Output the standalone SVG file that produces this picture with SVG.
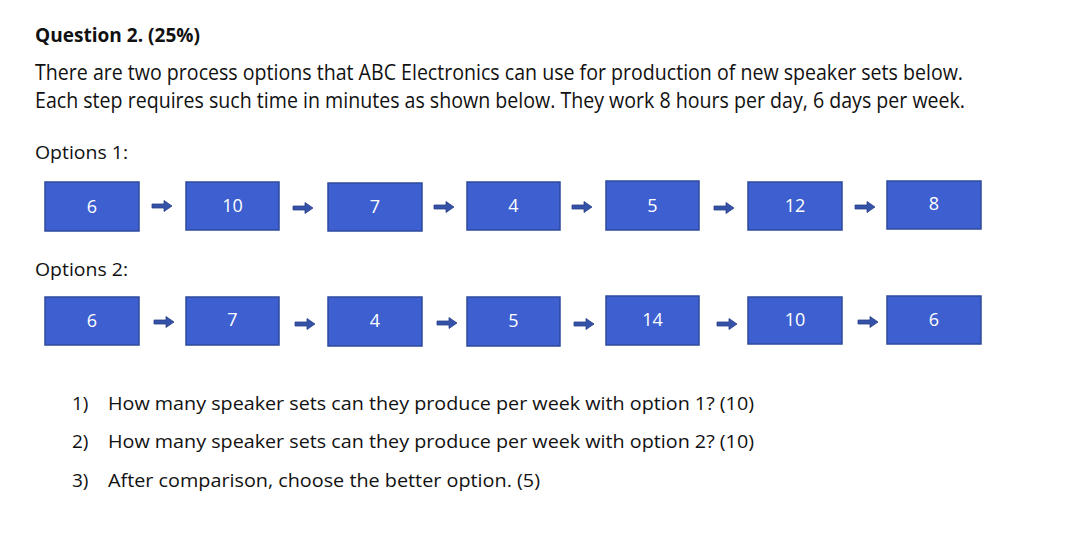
<svg xmlns="http://www.w3.org/2000/svg" xmlns:xlink="http://www.w3.org/1999/xlink" width="1080" height="553" viewBox="0 0 1080 553">
<style>
.t{font-family:"Open Sans","Noto Sans","Liberation Sans",sans-serif;fill:#111;}
.h{font-size:20px;font-weight:bold;}
.p{font-size:21px;}
.o{font-size:18px;}
.q{font-size:19px;}
.box{fill:#3D5FCF;stroke:#2E4A9C;stroke-width:1.5;}
.n{font-family:"Open Sans","Noto Sans","Liberation Sans",sans-serif;font-size:18px;fill:#fff;text-anchor:middle;}
.arr{fill:#3452A8;stroke:#2A4088;stroke-width:0.8;}
</style>
<defs>
<path id="a" class="arr" d="M0,-2 L12,-2 L12,-5.5 L20,0 L12,5.5 L12,2 L0,2 Z"/>
</defs>
<rect width="1080" height="553" fill="#fff"/>
<text class="t h" x="35" y="42" textLength="165" lengthAdjust="spacingAndGlyphs">Question 2. (25%)</text>
<text class="t p" x="35" y="80" textLength="928" lengthAdjust="spacingAndGlyphs">There are two process options that ABC Electronics can use for production of new speaker sets below.</text>
<text class="t p" x="35" y="108" textLength="930" lengthAdjust="spacingAndGlyphs">Each step requires such time in minutes as shown below. They work 8 hours per day, 6 days per week.</text>
<text class="t o" x="35" y="159" textLength="93" lengthAdjust="spacingAndGlyphs">Options 1:</text>
<text class="t o" x="35" y="276" textLength="93" lengthAdjust="spacingAndGlyphs">Options 2:</text>

<g id="connectors">
<use xlink:href="#a" x="152" y="206"/>
<use xlink:href="#a" x="293" y="208"/>
<use xlink:href="#a" x="434" y="207"/>
<use xlink:href="#a" x="572" y="207"/>
<use xlink:href="#a" x="714" y="208"/>
<use xlink:href="#a" x="855" y="207"/>
<use xlink:href="#a" x="154" y="322"/>
<use xlink:href="#a" x="295" y="324"/>
<use xlink:href="#a" x="437" y="323"/>
<use xlink:href="#a" x="574" y="324"/>
<use xlink:href="#a" x="717" y="324"/>
<use xlink:href="#a" x="858" y="322"/>
</g>

<g id="o1s1"><rect class="box" x="45" y="182" width="94" height="49"/><text class="n" x="92" y="213">6</text></g>
<g id="o1s2"><rect class="box" x="186" y="182" width="93" height="48"/><text class="n" x="232.5" y="212">10</text></g>
<g id="o1s3"><rect class="box" x="328" y="183" width="94" height="48"/><text class="n" x="375" y="213">7</text></g>
<g id="o1s4"><rect class="box" x="467" y="182" width="93" height="48"/><text class="n" x="513.5" y="212">4</text></g>
<g id="o1s5"><rect class="box" x="606" y="181" width="93" height="49"/><text class="n" x="652.5" y="212">5</text></g>
<g id="o1s6"><rect class="box" x="748" y="182" width="94" height="48"/><text class="n" x="795" y="212">12</text></g>
<g id="o1s7"><rect class="box" x="887" y="181" width="94" height="48"/><text class="n" x="934" y="210">8</text></g>

<g id="o2s1"><rect class="box" x="45" y="297" width="94" height="48"/><text class="n" x="92" y="327">6</text></g>
<g id="o2s2"><rect class="box" x="186" y="297" width="93" height="48"/><text class="n" x="232.5" y="326">7</text></g>
<g id="o2s3"><rect class="box" x="328" y="297" width="94" height="49"/><text class="n" x="375" y="327">4</text></g>
<g id="o2s4"><rect class="box" x="467" y="297" width="93" height="49"/><text class="n" x="513.5" y="327">5</text></g>
<g id="o2s5"><rect class="box" x="606" y="296" width="93" height="49"/><text class="n" x="652.5" y="326">14</text></g>
<g id="o2s6"><rect class="box" x="748" y="297" width="94" height="47"/><text class="n" x="795" y="326">10</text></g>
<g id="o2s7"><rect class="box" x="887" y="296" width="94" height="48"/><text class="n" x="934" y="326">6</text></g>

<text class="t q" x="72" y="410">1)</text>
<text class="t q" x="108" y="410" textLength="646" lengthAdjust="spacingAndGlyphs">How many speaker sets can they produce per week with option 1? (10)</text>
<text class="t q" x="72" y="448">2)</text>
<text class="t q" x="108" y="448" textLength="646" lengthAdjust="spacingAndGlyphs">How many speaker sets can they produce per week with option 2? (10)</text>
<text class="t q" x="72" y="487">3)</text>
<text class="t q" x="108" y="487" textLength="432" lengthAdjust="spacingAndGlyphs">After comparison, choose the better option. (5)</text>
</svg>
